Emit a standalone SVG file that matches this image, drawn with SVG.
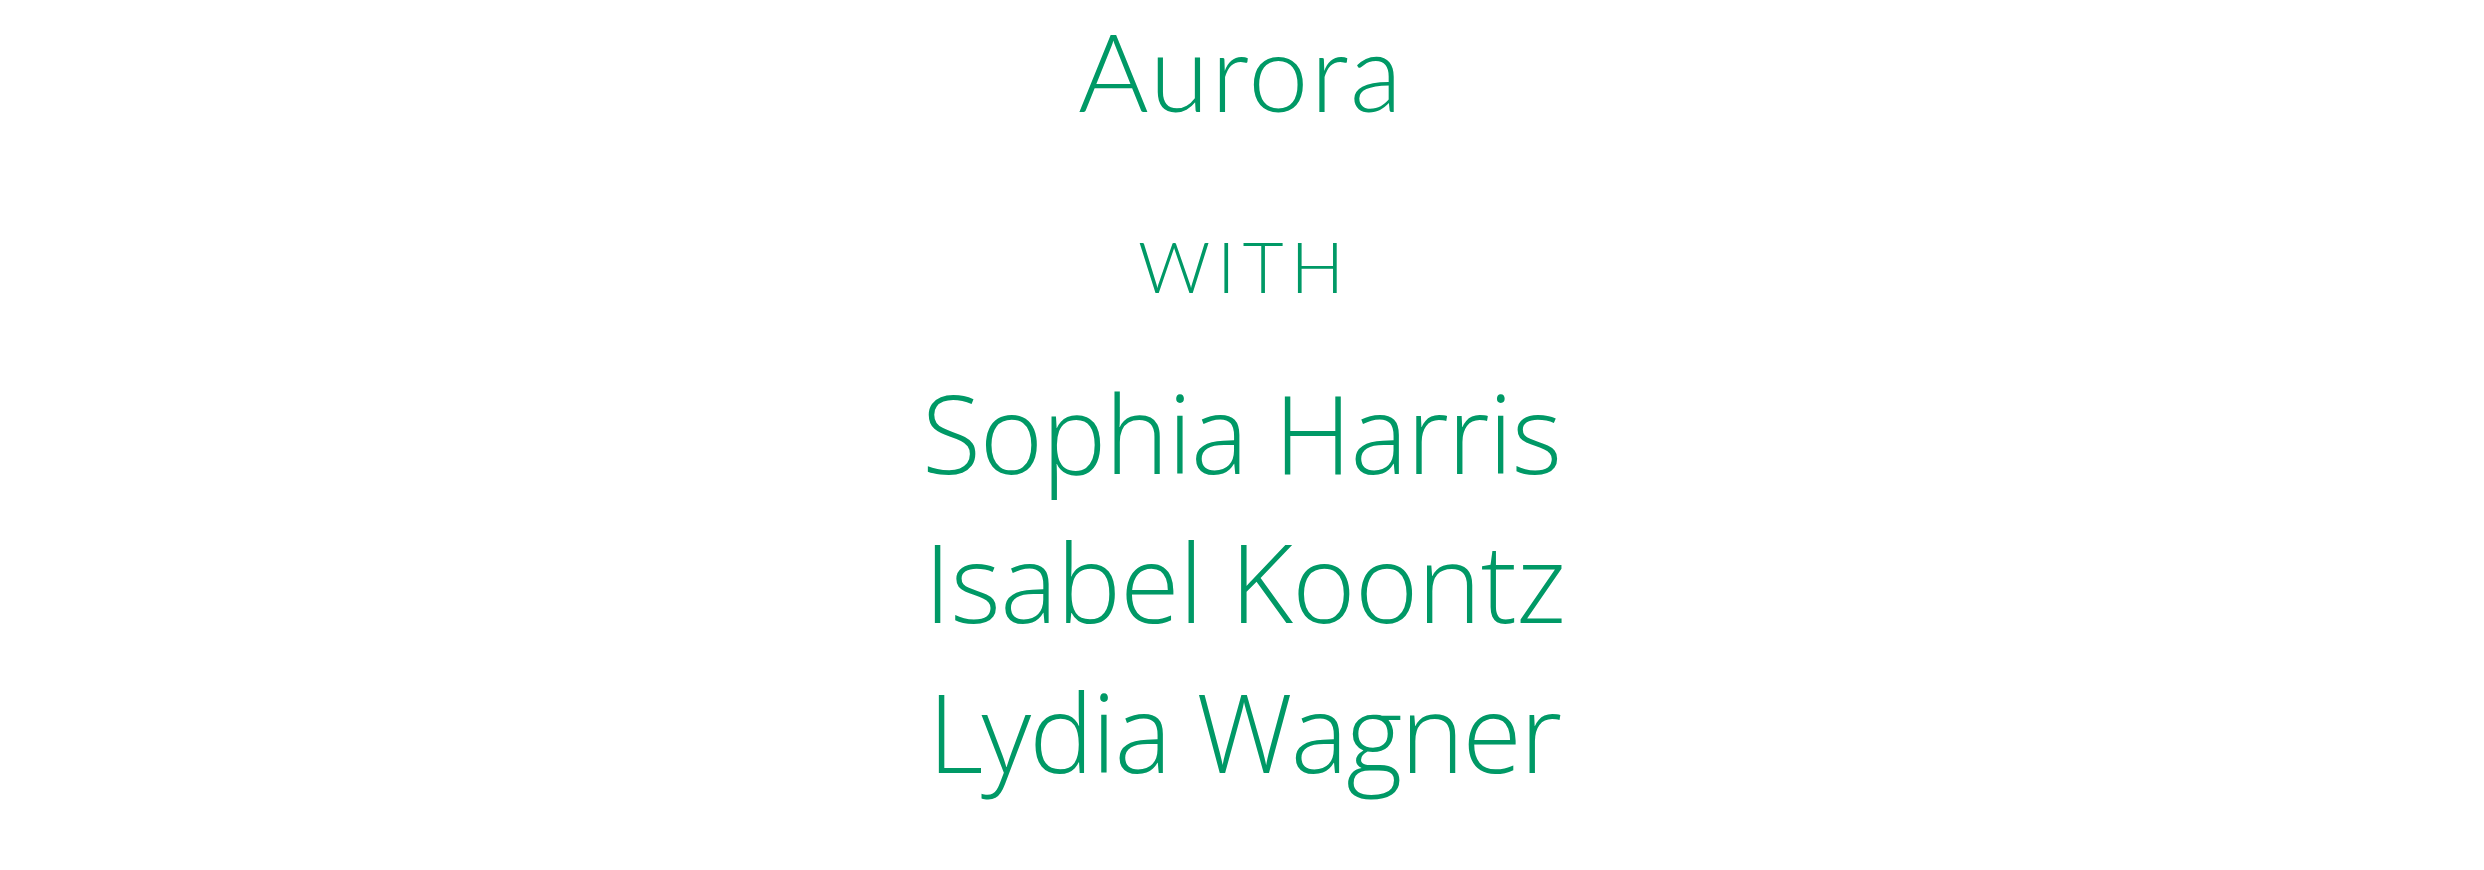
<svg xmlns="http://www.w3.org/2000/svg" width="2484" height="870" viewBox="0 0 2484 870">
<style>
text{fill:#009966;text-anchor:middle}
.title{font-family:"Lato","Open Sans",sans-serif;font-weight:300;font-size:108px}
.with{font-family:"Lato","Open Sans",sans-serif;font-weight:300;font-size:71px}
.name{font-family:"Open Sans","Lato",sans-serif;font-weight:300;font-size:108px}
</style>
<rect width="2484" height="870" fill="#ffffff"/>
<g id="title"><text class="title" x="1240" y="112" textLength="324" lengthAdjust="spacing">Aurora</text></g>
<g id="with"><text class="with" x="1241" y="293" textLength="206" lengthAdjust="spacing">WITH</text></g>
<g id="sophia"><text class="name" x="1242" y="474" textLength="640" lengthAdjust="spacing">Sophia Harris</text></g>
<g id="isabel"><text class="name" x="1245" y="623" textLength="642" lengthAdjust="spacing">Isabel Koontz</text></g>
<g id="lydia"><text class="name" x="1245" y="773" textLength="634" lengthAdjust="spacing">Lydia Wagner</text></g>
<g id="connectors"></g>
</svg>
